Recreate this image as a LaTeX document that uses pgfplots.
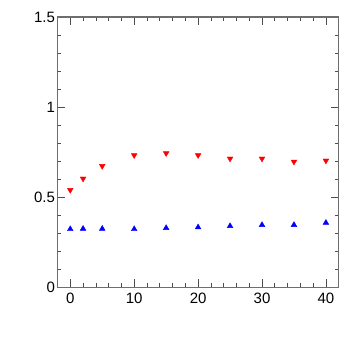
\documentclass[border=0pt]{standalone}
\usepackage{pgfplots}
\pgfplotsset{compat=1.18}
\usepackage{fontspec}
\setmainfont{Liberation Sans}
\definecolor{framegray}{RGB}{110,110,110}

\begin{document}
\begin{tikzpicture}[x=1pt,y=1pt]
\useasboundingbox (0,0) rectangle (357,343);
\begin{axis}[
    at={(57.5pt,55.7pt)}, anchor=south west,
    scale only axis,
    width=281.2pt, height=270.3pt,
    xmin=-2, xmax=42,
    ymin=0, ymax=1.5,
    xtick={0,10,...,40},
    ytick={0,0.5,1,1.5},
    yticklabels={0,0.5,1,1.5},
    minor x tick num=4,
    minor y tick num=4,
    tick align=inside,
    major tick length=8pt,
    minor tick length=4pt,
    axis line style={framegray, line width=1.2pt},
    every tick/.style={black!70, line width=0.6pt},
    xtick pos=both, ytick pos=both,
    xticklabel pos=lower, yticklabel pos=left,
    tick label style={font=\fontsize{15}{18}\selectfont},
    /pgf/number format/assume math mode=true,
    xticklabel style={yshift=-2pt},
    yticklabel style={xshift=1pt},
]
\addplot[only marks, color=red, mark=triangle*, mark size=3.3pt,
         mark options={rotate=180}] coordinates {
    (0,0.540) (2,0.603) (5,0.673) (10,0.733) (15,0.744)
    (20,0.733) (25,0.714) (30,0.714) (35,0.697) (40,0.703)
};
\addplot[only marks, color=blue, mark=triangle*, mark size=3.3pt] coordinates {
    (0,0.323) (2,0.325) (5,0.325) (10,0.323) (15,0.329)
    (20,0.333) (25,0.340) (30,0.346) (35,0.346) (40,0.358)
};
\end{axis}
\end{tikzpicture}
\end{document}
